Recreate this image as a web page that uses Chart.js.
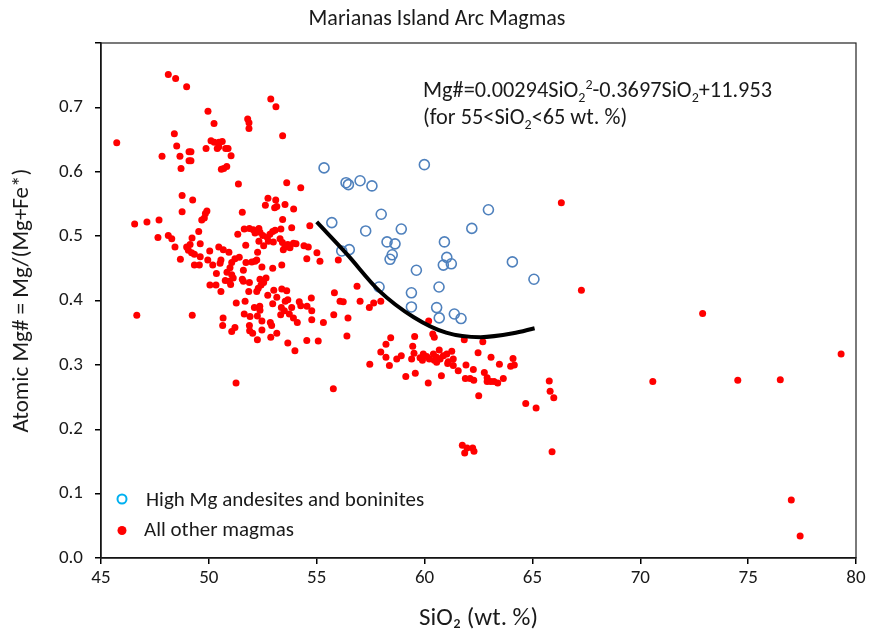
<!DOCTYPE html>
<html>
<head>
<meta charset="utf-8">
<title>Marianas Island Arc Magmas</title>
<script src="https://cdn.jsdelivr.net/npm/chart.js@4.4.0/dist/chart.umd.min.js"></script>
<style>
  body { margin: 0; background: #fff; }
  #wrap { position: relative; width: 871px; height: 634px; }
  #eq { position: absolute; left: 423px; top: 76px; font: 22.3px Carlito, Lato, sans-serif; color: #1a1a1a; line-height: 27px; white-space: nowrap; }
  #eq sub, #eq sup { font-size: 14px; line-height: 0; }
</style>
</head>
<body>
<div id="wrap">
  <canvas id="chart" width="871" height="634"></canvas>
  <div id="eq">Mg#=0.00294SiO<sub>2</sub><sup>2</sup>-0.3697SiO<sub>2</sub>+11.953<br>(for 55&lt;SiO<sub>2</sub>&lt;65 wt. %)</div>
</div>
<script>
const FONT = 'Carlito, Lato, sans-serif';
const TITLE = 'Marianas Island Arc Magmas';

// All other magmas (red dots)
const otherSiO2 = [
  48.12, 48.46, 48.97, 52.87, 53.11, 49.96, 51.80, 51.86, 51.86, 50.24, 48.40, 53.42, 45.73, 50.10, 50.25, 50.47, 50.62, 48.51, 49.87, 50.39,
  50.46, 50.78, 50.89, 49.08, 49.17, 47.83, 48.66, 51.03, 49.08, 49.17, 50.58, 50.69, 50.83, 48.71, 51.37, 53.61, 54.26, 48.76, 49.25, 52.74,
  53.10, 52.62, 53.05, 53.15, 53.53, 53.93, 48.76, 49.91, 49.84, 49.67, 49.79, 51.55, 53.42, 46.56, 47.13, 47.69, 54.68, 51.34, 51.64, 51.88,
  52.06, 52.14, 52.32, 52.37, 52.96, 53.07, 53.34, 52.83, 52.50, 52.71, 53.84, 47.64, 48.12, 48.28, 49.22, 49.53, 48.43, 48.97, 49.13, 49.05,
  49.20, 49.33, 49.60, 48.68, 49.60, 49.33, 49.56, 50.04, 50.46, 50.67, 50.93, 49.95, 50.18, 50.56, 50.52, 51.21, 51.06, 50.98, 51.41, 50.35,
  50.84, 51.06, 51.13, 50.95, 50.76, 51.01, 50.05, 50.33, 50.56, 51.60, 51.72, 51.99, 52.14, 52.22, 51.71, 52.26, 52.32, 52.54, 52.76, 52.99,
  53.30, 53.41, 53.53, 53.45, 53.66, 53.76, 53.92, 54.04, 54.41, 54.61, 55.01, 54.54, 55.15, 52.46, 52.96, 53.38, 51.55, 51.60, 51.88, 52.37,
  52.65, 52.54, 52.42, 52.29, 52.22, 51.85, 53.01, 53.38, 53.61, 52.73, 53.15, 51.27, 51.68, 52.11, 52.36, 52.37, 52.25, 51.64, 51.91, 52.46,
  52.96, 53.36, 53.54, 53.66, 53.50, 53.33, 53.84, 53.73, 53.92, 54.10, 54.19, 54.26, 54.55, 54.75, 54.77, 54.77, 55.31, 50.66, 50.64, 51.21,
  51.06, 51.88, 51.89, 52.03, 52.25, 52.46, 52.85, 52.91, 53.15, 52.87, 53.66, 53.99, 54.54, 55.07, 46.66, 49.23, 51.26, 55.77, 55.79, 56.45,
  56.40, 55.82, 56.08, 56.23, 56.87, 57.01, 56.00, 57.44, 57.64, 57.97, 58.43, 59.54, 60.19, 60.38, 60.45, 57.46, 58.21, 57.97, 58.21, 58.37,
  58.71, 58.92, 59.13, 59.45, 59.51, 59.40, 59.57, 60.17, 59.79, 59.94, 59.90, 60.10, 60.22, 60.41, 60.45, 60.56, 60.68, 60.72, 60.87, 61.03,
  61.10, 61.26, 61.33, 61.33, 61.07, 60.56, 60.78, 61.56, 61.84, 61.92, 61.89, 62.11, 62.28, 62.26, 62.48, 62.70, 62.77, 62.90, 62.90, 63.07,
  63.22, 63.39, 63.08, 63.47, 63.65, 64.10, 63.99, 64.16, 62.51, 64.69, 65.17, 65.78, 65.82, 65.99, 61.75, 61.86, 61.97, 62.23, 62.29, 65.91,
  66.34, 67.27, 72.89, 79.31, 70.58, 74.52, 76.49, 77.00, 77.41
];
const otherMg = [
  0.751, 0.745, 0.732, 0.713, 0.701, 0.694, 0.682, 0.676, 0.667, 0.675, 0.659, 0.656, 0.645, 0.648, 0.646, 0.646, 0.647, 0.640, 0.636, 0.636,
  0.639, 0.636, 0.636, 0.631, 0.631, 0.624, 0.624, 0.625, 0.617, 0.617, 0.604, 0.605, 0.608, 0.605, 0.581, 0.583, 0.575, 0.563, 0.556, 0.559,
  0.556, 0.548, 0.544, 0.546, 0.549, 0.542, 0.538, 0.539, 0.535, 0.525, 0.528, 0.537, 0.526, 0.519, 0.522, 0.525, 0.516, 0.503, 0.511, 0.512,
  0.510, 0.505, 0.512, 0.506, 0.507, 0.509, 0.511, 0.503, 0.501, 0.498, 0.513, 0.498, 0.501, 0.496, 0.497, 0.507, 0.483, 0.483, 0.487, 0.478,
  0.474, 0.472, 0.488, 0.464, 0.468, 0.455, 0.455, 0.477, 0.483, 0.479, 0.475, 0.463, 0.455, 0.463, 0.458, 0.465, 0.459, 0.451, 0.467, 0.442,
  0.444, 0.440, 0.435, 0.430, 0.431, 0.425, 0.424, 0.424, 0.414, 0.447, 0.459, 0.460, 0.461, 0.463, 0.486, 0.475, 0.492, 0.485, 0.492, 0.491,
  0.496, 0.490, 0.483, 0.479, 0.487, 0.482, 0.489, 0.488, 0.485, 0.483, 0.474, 0.465, 0.461, 0.452, 0.450, 0.455, 0.433, 0.430, 0.428, 0.433,
  0.435, 0.428, 0.424, 0.419, 0.414, 0.414, 0.416, 0.418, 0.415, 0.408, 0.405, 0.396, 0.399, 0.389, 0.391, 0.385, 0.376, 0.379, 0.375, 0.368,
  0.395, 0.389, 0.399, 0.401, 0.384, 0.378, 0.389, 0.379, 0.373, 0.366, 0.398, 0.392, 0.391, 0.404, 0.384, 0.370, 0.366, 0.373, 0.361, 0.358,
  0.352, 0.361, 0.353, 0.349, 0.339, 0.354, 0.366, 0.361, 0.349, 0.343, 0.334, 0.322, 0.338, 0.337, 0.377, 0.377, 0.272, 0.263, 0.378, 0.373,
  0.345, 0.412, 0.399, 0.398, 0.422, 0.399, 0.463, 0.389, 0.396, 0.399, 0.342, 0.344, 0.368, 0.348, 0.343, 0.301, 0.332, 0.320, 0.312, 0.299,
  0.309, 0.314, 0.282, 0.329, 0.318, 0.309, 0.287, 0.272, 0.311, 0.317, 0.307, 0.313, 0.309, 0.317, 0.307, 0.312, 0.323, 0.309, 0.314, 0.317,
  0.305, 0.321, 0.309, 0.299, 0.302, 0.304, 0.283, 0.291, 0.339, 0.300, 0.279, 0.279, 0.276, 0.293, 0.319, 0.336, 0.288, 0.280, 0.274, 0.274,
  0.274, 0.272, 0.312, 0.301, 0.279, 0.310, 0.298, 0.300, 0.252, 0.240, 0.233, 0.275, 0.259, 0.249, 0.175, 0.163, 0.171, 0.171, 0.166, 0.165,
  0.552, 0.416, 0.380, 0.317, 0.274, 0.276, 0.277, 0.090, 0.034
];

// High Mg andesites and boninites (open blue circles)
const hmaSiO2 = [
  55.34, 59.99, 56.36, 56.47, 57.01, 57.56, 57.99, 55.70, 57.27, 58.92, 58.26, 58.63, 56.16, 56.51, 58.50, 58.40, 59.62,
  57.89, 59.39, 59.39, 60.67, 60.56, 60.68, 61.38, 61.69, 60.92, 61.03, 60.87, 61.24, 62.19, 62.96, 64.07, 65.07
];
const hmaMg = [
  0.606, 0.611, 0.583, 0.580, 0.586, 0.578, 0.534, 0.521, 0.508, 0.511, 0.491, 0.488, 0.477, 0.479, 0.471, 0.464, 0.447,
  0.421, 0.412, 0.390, 0.421, 0.389, 0.373, 0.379, 0.372, 0.491, 0.467, 0.455, 0.457, 0.512, 0.541, 0.460, 0.433
];

// fitted curve (55 < SiO2 < 65)
const curveSiO2 = [55.0, 56.4, 57.9, 59.5, 61.0, 62.6, 64.1, 65.1];
const curveMg = [0.522, 0.472, 0.415, 0.374, 0.350, 0.343, 0.349, 0.357];

const toXY = (xs, ys) => xs.map((x, i) => ({ x: x, y: ys[i] }));

// plot frame (top and right edges) + chart title
const framePlugin = {
  id: 'frame',
  afterDatasetsDraw(chart) {
    const { ctx, chartArea: a } = chart;
    ctx.save();
    ctx.strokeStyle = '#222';
    ctx.lineWidth = 1.2;
    ctx.strokeRect(a.left, a.top, a.right - a.left, a.bottom - a.top);
    ctx.restore();
  },
  afterDraw(chart) {
    const ctx = chart.ctx;
    ctx.save();
    ctx.font = '22px ' + FONT;
    ctx.fillStyle = '#1a1a1a';
    ctx.textAlign = 'center';
    ctx.textBaseline = 'middle';
    ctx.fillText(TITLE, 437, 19);
    ctx.restore();
  }
};

// legend drawn inside the plot, bottom-left
const legendPlugin = {
  id: 'insideLegend',
  afterDraw(chart) {
    const ctx = chart.ctx;
    ctx.save();
    ctx.font = '21px ' + FONT;
    ctx.fillStyle = '#1a1a1a';
    ctx.textBaseline = 'middle';

    ctx.beginPath();
    ctx.arc(122, 499, 4.5, 0, Math.PI * 2);
    ctx.strokeStyle = '#00b0f0';
    ctx.lineWidth = 2;
    ctx.stroke();
    ctx.fillText('High Mg andesites and boninites', 146, 501);

    ctx.beginPath();
    ctx.arc(122, 530.5, 4.5, 0, Math.PI * 2);
    ctx.fillStyle = '#ff0000';
    ctx.fill();
    ctx.fillStyle = '#1a1a1a';
    ctx.fillText('All other magmas', 144, 531);
    ctx.restore();
  }
};

new Chart(document.getElementById('chart'), {
  type: 'scatter',
  data: {
    datasets: [
      {
        label: 'Fit',
        data: toXY(curveSiO2, curveMg),
        showLine: true,
        borderColor: '#000',
        borderWidth: 4,
        pointRadius: 0,
        cubicInterpolationMode: 'monotone',
        order: 1
      },
      {
        label: 'High Mg andesites and boninites',
        data: toXY(hmaSiO2, hmaMg),
        pointRadius: 5,
        pointBorderWidth: 1.6,
        borderColor: '#4f81bd',
        backgroundColor: 'rgba(0,0,0,0)',
        order: 2
      },
      {
        label: 'All other magmas',
        data: toXY(otherSiO2, otherMg),
        pointRadius: 3.5,
        pointBorderWidth: 0,
        borderColor: '#ff0000',
        backgroundColor: '#ff0000',
        order: 3
      }
    ]
  },
  options: {
    responsive: false,
    animation: false,
    layout: { padding: { left: 0, right: 15, top: 43, bottom: 0 } },
    plugins: {
      legend: { display: false },
      tooltip: { enabled: false },
      title: { display: false }
    },
    scales: {
      x: {
        type: 'linear',
        min: 45,
        max: 80,
        ticks: { stepSize: 5, color: '#1a1a1a', font: { family: FONT, size: 19 }, padding: 3, maxRotation: 0 },
        grid: { drawOnChartArea: false, drawTicks: true, tickLength: 6, color: '#000', lineWidth: 1.5 },
        border: { display: true, color: '#000', width: 1.5 },
        title: { display: true, text: 'SiO₂ (wt. %)', color: '#1a1a1a', font: { family: FONT, size: 25 }, padding: { top: 0, bottom: 0 } },
        afterFit(s) { s.height = 76; }
      },
      y: {
        min: 0,
        max: 0.8,
        ticks: {
          stepSize: 0.1,
          color: '#1a1a1a',
          font: { family: FONT, size: 19 },
          padding: 12,
          callback: (v) => (v > 0.75 ? '' : v.toFixed(1))
        },
        grid: { drawOnChartArea: false, drawTicks: true, tickLength: 6, color: '#000', lineWidth: 1.5 },
        border: { display: true, color: '#000', width: 1.5 },
        title: { display: true, text: 'Atomic Mg# = Mg/(Mg+Fe*)', color: '#1a1a1a', font: { family: FONT, size: 23 }, padding: { top: 8, bottom: 0 } },
        afterFit(s) { s.width = 101; }
      }
    }
  },
  plugins: [framePlugin, legendPlugin]
});
</script>
</body>
</html>
